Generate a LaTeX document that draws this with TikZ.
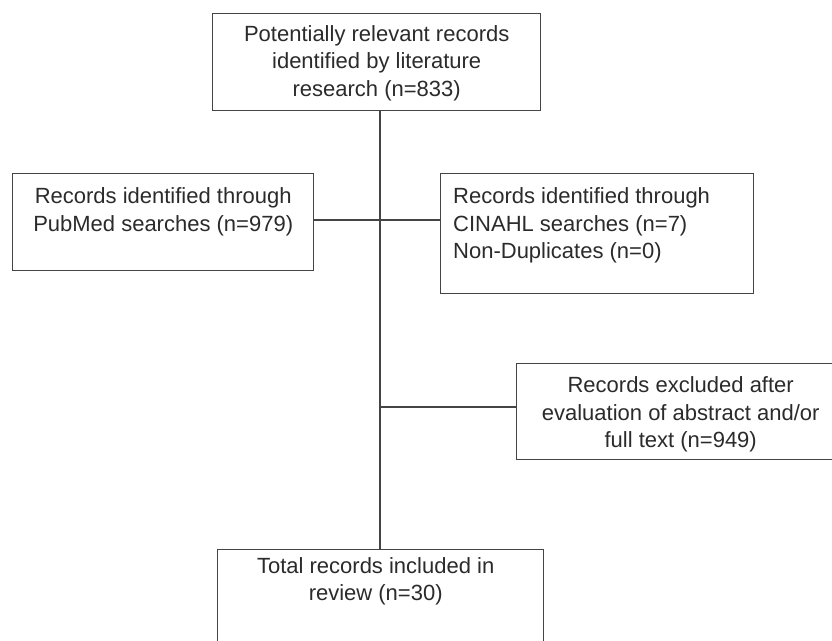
\documentclass[tikz,border=0pt]{standalone}
\usepackage{fontspec}
\setmainfont{Liberation Sans}
\definecolor{txtc}{HTML}{2B2B2B}
\definecolor{linec}{HTML}{444444}
\begin{document}
\begin{tikzpicture}[x=1pt,y=-1pt,
  box/.style={draw=linec, line width=1.4pt, rectangle, inner sep=0pt, anchor=north west},
  txt/.style={inner sep=0pt, text=txtc, font=\fontsize{22}{27.5}\selectfont},
  conn/.style={draw=linec, line width=1.3pt}]
\useasboundingbox (0,0) rectangle (832,640);
\fill[white] (0,0) rectangle (832,640);
% boxes
\node[box, minimum width=328pt, minimum height=97pt] (top) at (212,13) {};
\node[box, minimum width=301pt, minimum height=97pt] (pubmed) at (12,173) {};
\node[box, minimum width=313pt, minimum height=120pt] (cinahl) at (440,173) {};
\node[box, minimum width=334pt, minimum height=96pt] (excl) at (516,363) {};
\node[box, minimum width=326pt, minimum height=151pt] (total) at (217,549) {};
% texts
\node[txt, align=center, anchor=north] (toptext) at ([yshift=-12pt]top.north)
  {Potentially relevant records\\identified by literature\\research (n=833)};
\node[txt, align=center, anchor=north] (pubtext) at ([yshift=-14.5pt]pubmed.north)
  {Records identified through\\PubMed searches (n=979)};
\node[txt, align=left, anchor=north west] (cintext) at ([xshift=13pt,yshift=-14.5pt]cinahl.north west)
  {Records identified through\\CINAHL searches (n=7)\\Non-Duplicates (n=0)};
\node[txt, align=center, anchor=north] (excltext) at ([xshift=-3pt,yshift=-13.5pt]excl.north)
  {Records excluded after\\evaluation of abstract and/or\\full text (n=949)};
\node[txt, align=center, anchor=north] (totaltext) at ([xshift=-5pt,yshift=-8pt]total.north)
  {Total records included in\\review (n=30)};
% connectors
\coordinate (vtop) at (top.south -| 380,0);
\coordinate (vbot) at (total.north -| 380,0);
\draw[conn] (vtop) -- (vbot);
\draw[conn] (pubmed.east |- 0,220) -- (cinahl.west |- 0,220);
\coordinate (exj) at (380,407);
\draw[conn] (exj) -- (excl.west |- exj);
\end{tikzpicture}
\end{document}
